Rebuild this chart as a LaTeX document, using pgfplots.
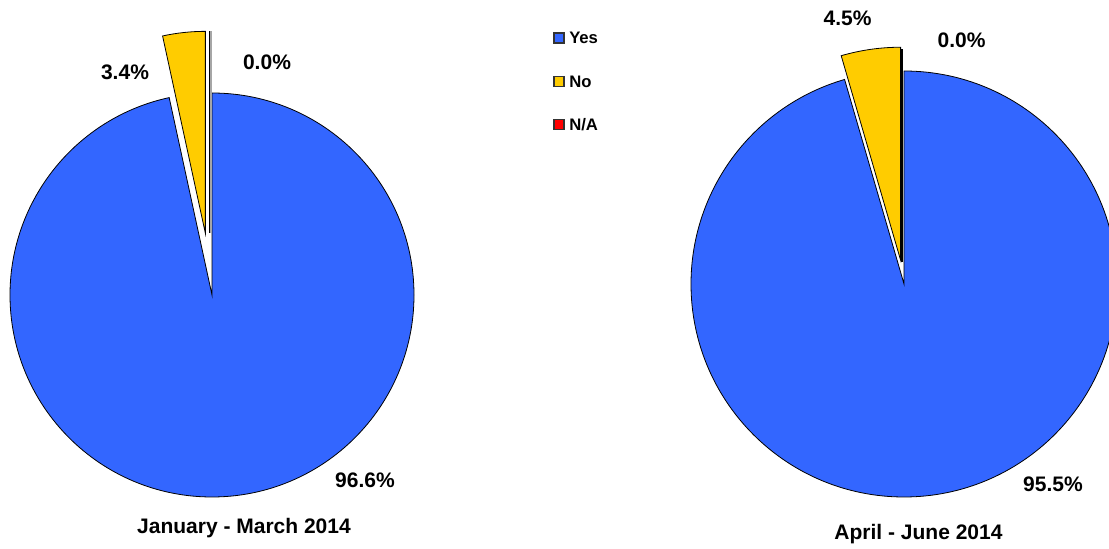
\documentclass[border=0pt]{standalone}
\usepackage{pgfplots}
\pgfplotsset{compat=1.18}
\usepackage{fontspec}
\setmainfont{Liberation Sans}
\definecolor{yesblue}{HTML}{3366FF}
\definecolor{noyellow}{HTML}{FFCC00}
\definecolor{nared}{HTML}{FF0000}
% data (percent)
\def\LYes{96.6}\def\LNo{3.4}\def\LNA{0.0}
\def\RYes{95.5}\def\RNo{4.5}\def\RNA{0.0}
\newcommand{\lbl}{\fontsize{15.75}{18}\selectfont\bfseries}
\newcommand{\leg}{\fontsize{12.5}{15}\selectfont\bfseries}
\begin{document}
\begin{tikzpicture}
\begin{axis}[
  x=0.75pt, y=0.75pt,
  xmin=0, xmax=1109, ymin=0, ymax=549,
  hide axis, scale only axis,
]
% white background to fix the bounding box
\fill[white] (axis cs:0,0) rectangle (axis cs:1109,549);

% ---------- left pie ----------
\pgfmathsetmacro{\Lend}{90-3.6*\LYes}
\pgfmathsetmacro{\Lnoa}{90+3.6*\LNo}
\pgfmathsetmacro{\Lmid}{90+1.8*\LNo}
\filldraw[fill=yesblue, draw=black, line width=0.6pt]
  (axis cs:212,254) -- ++(90:151.5pt) arc[start angle=90, end angle=\Lend, radius=151.5pt] -- cycle;
\filldraw[fill=noyellow, draw=black, line width=0.6pt]
  ([shift={(\Lmid:46.5pt)}]axis cs:212,254) -- ++(\Lnoa:151.5pt) arc[start angle=\Lnoa, end angle=90, radius=151.5pt] -- cycle;
\draw[gray!70, line width=1.2pt] ([shift={(-0.6pt,46.5pt)}]axis cs:212,254) -- ++(90:151.5pt);
\draw[black, line width=0.9pt] ([shift={(-2.0pt,46.5pt)}]axis cs:212,254) -- ++(90:151.5pt);

% ---------- right pie ----------
\pgfmathsetmacro{\Rend}{90-3.6*\RYes}
\pgfmathsetmacro{\Rnoa}{90+3.6*\RNo}
\pgfmathsetmacro{\Rmid}{90+1.8*\RNo}
\filldraw[fill=yesblue, draw=black, line width=0.6pt]
  (axis cs:904,265) -- ++(90:159.75pt) arc[start angle=90, end angle=\Rend, radius=159.75pt] -- cycle;
\filldraw[fill=noyellow, draw=black, line width=0.6pt]
  ([shift={(\Rmid:18pt)}]axis cs:904,265) -- ++(\Rnoa:159.75pt) arc[start angle=\Rnoa, end angle=90, radius=159.75pt] -- cycle;
\draw[black, line width=1.3pt] ([shift={(-1.5pt,16.5pt)}]axis cs:904,265) -- ++(90:159.75pt);

% ---------- labels ----------
\node[anchor=base, font=\lbl] at (axis cs:365,61) {96.6\%};
\node[anchor=base, font=\lbl] at (axis cs:125,469) {3.4\%};
\node[anchor=base, font=\lbl] at (axis cs:267,479) {0.0\%};
\node[anchor=base, font=\lbl] at (axis cs:847.5,523) {4.5\%};
\node[anchor=base, font=\lbl] at (axis cs:961.5,501) {0.0\%};
\node[anchor=base, font=\lbl] at (axis cs:1053,57) {95.5\%};
\node[anchor=base, font=\lbl] at (axis cs:244,15) {January - March 2014};
\node[anchor=base, font=\lbl] at (axis cs:918.5,9) {April - June 2014};

% ---------- legend ----------
\filldraw[fill=yesblue, draw=black!80, line width=0.8pt] (axis cs:554,506) rectangle (axis cs:564,516);
\filldraw[fill=noyellow, draw=black!80, line width=0.8pt] (axis cs:554,462.5) rectangle (axis cs:564,472.5);
\filldraw[fill=nared, draw=black!80, line width=0.8pt] (axis cs:554,419.5) rectangle (axis cs:564,429.5);
\node[anchor=base west, inner sep=0pt, font=\leg] at (axis cs:569,505) {Yes};
\node[anchor=base west, inner sep=0pt, font=\leg] at (axis cs:569,461.5) {No};
\node[anchor=base west, inner sep=0pt, font=\leg] at (axis cs:569,418.5) {N/A};
\end{axis}
\end{tikzpicture}
\end{document}
